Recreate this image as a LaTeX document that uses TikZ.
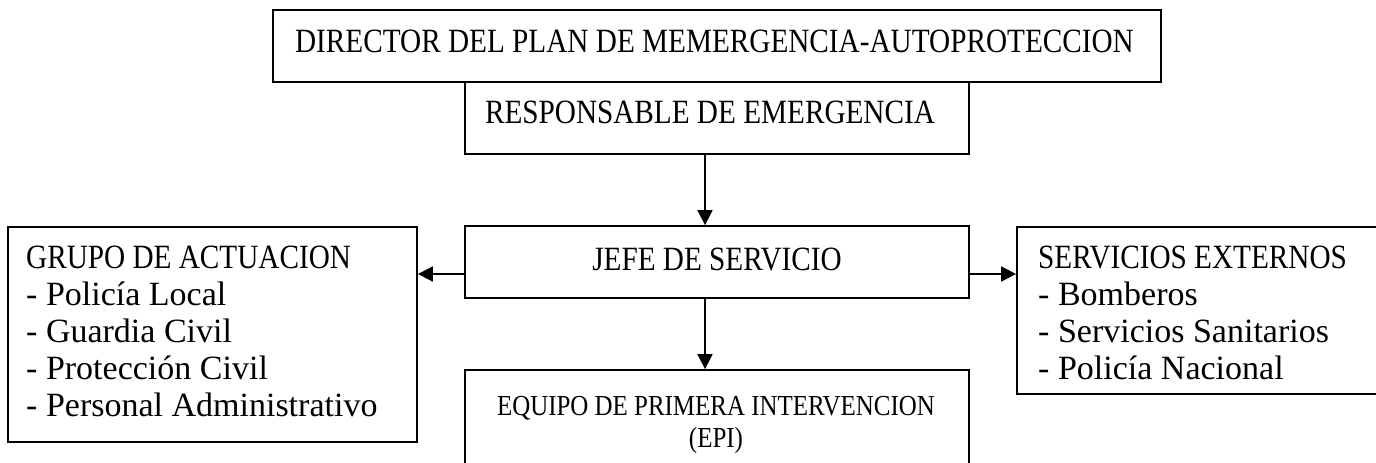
\documentclass[tikz,border=0pt]{standalone}
\usepackage{fontspec}
\setmainfont[FakeStretch=0.86]{Liberation Serif}
\newfontfamily\lcfont[FakeStretch=1.0]{Liberation Serif}
\usetikzlibrary{arrows.meta}
\begin{document}
\begin{tikzpicture}[x=1pt,y=-1pt,
  box/.style={draw, line width=1.8pt, inner sep=0pt},
  lbl/.style={inner sep=0pt, font=\fontsize{34}{37}\selectfont},
  small/.style={inner sep=0pt, font=\fontsize{29}{32}\selectfont},
  arr/.style={line width=1.8pt, -{Triangle[length=15pt,width=15pt]}}]
\useasboundingbox (0,0) rectangle (1376,463);
\clip (0,0) rectangle (1376,463);
\fill[white] (0,0) rectangle (1376,463);
% boxes
\node[box, minimum width=888pt, minimum height=72pt] (dir) at (717,46) {};
\node[box, minimum width=504pt, minimum height=72pt] (resp) at (717,118) {};
\node[box, minimum width=504pt, minimum height=72pt] (jefe) at (717,262) {};
\node[box, minimum width=409pt, minimum height=215pt] (group) at (212.5,334.5) {};
\node[box, minimum width=400pt, minimum height=167pt] (serv) at (1217,310.5) {};
\node[box, minimum width=504pt, minimum height=120pt] (epi) at (717,430) {};
% texts (multi-line nodes: base = baseline of last line)
\node[lbl, anchor=base] (dirt) at (714.5,52) {DIRECTOR DEL PLAN DE MEMERGENCIA-AUTOPROTECCION};
\node[lbl, anchor=base] (respt) at (710,123) {RESPONSABLE DE EMERGENCIA};
\node[lbl, anchor=base] (jefet) at (717,270) {JEFE DE SERVICIO};
\node[small, anchor=base, align=center] (epit) at (716,447) {EQUIPO DE PRIMERA INTERVENCION\\(EPI)};
\node[lbl, anchor=base west, align=left] (groupt) at (26,416) {GRUPO DE ACTUACION\\{\lcfont - Policía Local}\\{\lcfont - Guardia Civil}\\{\lcfont - Protección Civil}\\{\lcfont - Personal Administrativo}};
\node[lbl, anchor=base west, align=left] (servt) at (1038,379) {SERVICIOS EXTERNOS\\{\lcfont - Bomberos}\\{\lcfont - Servicios Sanitarios}\\{\lcfont - Policía Nacional}};
% connectors
\coordinate (ax) at (705,0);
\coordinate (hl) at (0,274);
\draw[arr] (resp.south -| ax) -- (jefe.north -| ax);
\draw[arr] (jefe.south -| ax) -- (epi.north -| ax);
\draw[arr] (jefe.west |- hl) -- (group.east |- hl);
\draw[arr] (jefe.east |- hl) -- (serv.west |- hl);
\end{tikzpicture}
\end{document}
